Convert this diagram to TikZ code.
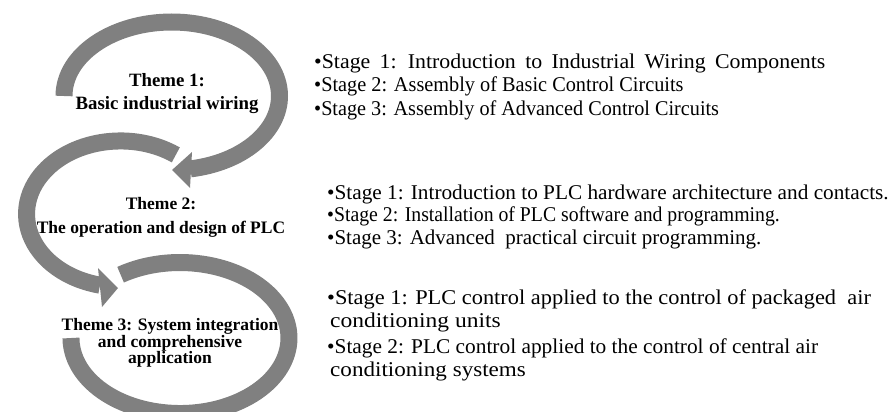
\documentclass[tikz,border=0pt]{standalone}
\usepackage{fontspec}
\setmainfont{Liberation Serif}
\definecolor{bandgray}{RGB}{128,128,128}
\begin{document}
\begin{tikzpicture}[x=1pt,y=1pt,
  band/.style={draw=bandgray,line width=17pt},
  head/.style={fill=bandgray,draw=none},
  theme/.style={font=\fontsize{17.5}{20}\selectfont\bfseries,anchor=base,inner sep=0pt},
  bigtheme/.style={font=\fontsize{18.8}{20}\selectfont\bfseries,anchor=base,inner sep=0pt},
  stage/.style={font=\fontsize{21}{23}\selectfont,anchor=base west,inner sep=0pt},
  sx/.style={xscale=#1,transform shape}]
\useasboundingbox (0,0) rectangle (889,-412);
% arc 1
\draw[band] (64,-96) arc[start angle=180,end angle=-80,x radius=107.75,y radius=74];
\fill[head] (192,-152) -- (172,-170) -- (190,-188) -- cycle;
% arc 2
\draw[band] (175.8,-154.9) arc[start angle=54,end angle=257.4,x radius=94,y radius=73];
\fill[head] (98,-268) -- (118,-288) -- (102,-307) -- cycle;
% arc 3
\draw[band] (120.6,-274.7) arc[start angle=123,end angle=180-360,x radius=109,y radius=75.5];
% theme texts
\node[bigtheme] (t1a) at (167,-86) {Theme 1:};
\node[bigtheme] (t1b) at (167,-109) {Basic industrial wiring};
\node[theme] (t2a) at (161,-209) {Theme 2:};
\node[theme] (t2b) at (161,-233) {The operation and design of PLC};
\node[theme] (t3a) at (170,-330) {Theme 3: System integration};
\node[theme] (t3b) at (170,-347) {and comprehensive};
\node[theme] (t3c) at (170,-363) {application};
% stages
\node[stage,sx=1.04] (s11) at (314,-69) {\spaceskip=9pt plus 1pt•Stage 1: Introduction to Industrial Wiring Components};
\node[stage,sx=0.966] (s12) at (314,-92) {•Stage 2: Assembly of Basic Control Circuits};
\node[stage,sx=0.962] (s13) at (314,-115) {•Stage 3: Assembly of Advanced Control Circuits};
\node[stage,sx=1.013] (s21) at (327,-199) {•Stage 1: Introduction to PLC hardware architecture and contacts.};
\node[stage,sx=0.94] (s22) at (327,-221) {•Stage 2: Installation of PLC software and programming.};
\node[stage] (s23) at (327,-244) {•Stage 3: Advanced\ \ practical circuit programming.};
\node[stage,sx=1.066] (s31) at (327,-304) {•Stage 1: PLC control applied to the control of packaged\ \ air};
\node[stage,sx=1.12] (s31b) at (330,-327) {conditioning units};
\node[stage,sx=1.017] (s32) at (327,-353) {•Stage 2: PLC control applied to the control of central air};
\node[stage,sx=1.1] (s32b) at (330,-376) {conditioning systems};
\end{tikzpicture}
\end{document}
